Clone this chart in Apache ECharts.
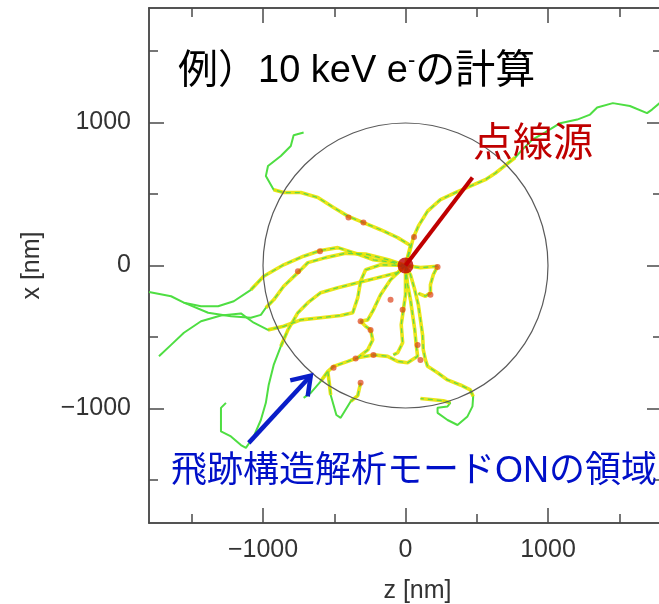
<!DOCTYPE html>
<html><head><meta charset="utf-8">
<script src="https://cdn.jsdelivr.net/npm/echarts@6/dist/echarts.min.js"></script>
<style>html,body{margin:0;padding:0;background:#fff}#c{width:659px;height:604px}</style>
</head><body><div id="c"></div>
<script>
// ---- data (nm): points are [z, x] ----
const axisMin = -1800, axisMax = 1800;
const majorTicks = [-1000, 0, 1000];
const minorTicks = [-1500, -500, 500, 1500];
const regionRadius = 1000;           // track-structure-mode region
const sourcePoint = [0, 0];
const sourceLabelAnchor = [470, 615];
const regionArrow = [-1100, -1240, -665, -770];

const trackA = [[0,0],[30,100],[55,195],[90,275],[155,380],[245,460],[350,510],[455,555],[560,600],[630,645],[700,700],[770,755],[820,810],[890,880],[980,930],[1085,995],[1205,1020],[1295,1055],[1345,1105],[1455,1135],[1575,1115],[1695,1065],[1730,1090],[1800,1150]];
const trackB = [[0,0],[35,140],[-55,195],[-175,250],[-295,300],[-405,345],[-505,405],[-615,475],[-735,510],[-855,510],[-925,530],[-980,625],[-965,695],[-875,765],[-805,835],[-785,910],[-715,930]];
const trackC = [[-15,-15],[-85,20],[-225,40],[-365,90],[-475,125],[-595,105],[-715,65],[-855,5],[-995,-75],[-1085,-170],[-1205,-250],[-1315,-285],[-1435,-285],[-1555,-260],[-1645,-215],[-1800,-185]];
const trackE = [[0,0],[-120,40],[-280,80],[-420,85],[-560,55],[-685,20],[-755,-50],[-855,-145],[-925,-240],[-980,-295],[-1015,-345],[-1085,-365],[-1225,-355],[-1385,-330],[-1555,-260]];
const trackF = [[0,0],[-175,5],[-280,-30],[-315,-110],[-335,-225],[-370,-330],[-455,-350],[-595,-365],[-735,-380],[-855,-425],[-965,-450],[-1065,-400],[-1155,-335],[-1295,-350],[-1435,-390],[-1555,-470],[-1645,-555],[-1730,-635]];
const trackD = [[0,0],[-55,-50],[-195,-85],[-335,-120],[-475,-155],[-595,-190],[-685,-260],[-755,-330],[-825,-450],[-875,-565],[-925,-695],[-960,-835],[-980,-960],[-1015,-1080],[-1065,-1195],[-1120,-1275],[-1155,-1255],[-1225,-1195],[-1295,-1160],[-1295,-995],[-1260,-960]];
const trackG = [[0,0],[-105,-100],[-175,-205],[-225,-310],[-265,-380],[-315,-390],[-280,-425],[-245,-450],[-230,-520],[-265,-590],[-335,-645]];
const trackH = [[0,0],[15,-135],[35,-240],[50,-345],[65,-450],[75,-555],[85,-635],[15,-680],[-55,-670],[-125,-635],[-225,-625],[-335,-645],[-405,-670],[-505,-705],[-545,-740],[-595,-810],[-665,-890],[-715,-925]];
const trackV = [[-545,-740],[-525,-905],[-485,-1045],[-455,-1065],[-385,-950],[-335,-910],[-315,-820]];
const trackI = [[0,0],[0,-100],[0,-205],[-15,-310],[-30,-415],[-20,-540],[-55,-610],[-85,-625]];
const trackK = [[0,0],[35,-65],[65,-170],[90,-275],[105,-380],[120,-485],[125,-590],[140,-660],[155,-705],[225,-750],[295,-800],[385,-835],[455,-870],[475,-915],[470,-985],[435,-1055],[365,-1115],[295,-1080],[225,-1030],[225,-995],[295,-985],[315,-960],[265,-945],[105,-930]];
const trackL = [[0,0],[105,-15],[225,-5],[195,-65],[175,-135],[175,-190],[140,-215],[90,-195]];
const tracks = [trackA, trackB, trackC, trackE, trackF, trackD, trackG, trackH, trackV, trackI, trackK, trackL];

const hotSpots = [[225,-10],[-400,335],[-295,300],[-245,-450],[-315,-390],[175,-205],[-20,-310],[85,-555],[-225,-625],[-350,-650],[-505,-715],[-315,-820],[105,-660],[-755,-40],[-105,-240],[-600,100],[60,200]];

const titleText = '例）10 keV e';
const titleSup = '-';
const titleTail = 'の計算';
const sourceLabel = '点線源';
const regionLabel = '飛跡構造解析モードONの領域';
const xName = 'z [nm]';
const yName = 'x [nm]';

// ---- build ----
const FONT = '"Liberation Sans", "Noto Sans CJK JP", sans-serif';
const AX = '#4a4a4a';
const fmt = v => v < 0 ? '\u2212' + (-v) : String(v);

function splitTrack(pts, R) {
  const inner = [], outer = [];
  let cur = null, curIn = null;
  for (let i = 0; i < pts.length; i++) {
    const p = pts[i];
    const isIn = Math.hypot(p[0], p[1]) <= R;
    if (cur === null) { cur = [p]; curIn = isIn; }
    else if (isIn === curIn) cur.push(p);
    else { cur.push(p); (curIn ? inner : outer).push(cur); cur = [pts[i-1], p]; curIn = isIn; }
  }
  (curIn ? inner : outer).push(cur);
  return { inner, outer };
}

function mkAxis(dim, pos, vals, len, withLabel, extra) {
  const a = {
    type: 'value', min: axisMin, max: axisMax, position: pos,
    axisLine: { show: true, onZero: false, lineStyle: { color: AX, width: 1.5 } },
    axisTick: { show: true, inside: true, length: len, customValues: vals, lineStyle: { color: AX, width: 1.5 } },
    axisLabel: { show: withLabel, customValues: vals, formatter: fmt, fontSize: 25, color: '#333', fontFamily: FONT, margin: dim === 'x' ? 15 : 18 },
    splitLine: { show: false }
  };
  return Object.assign(a, extra || {});
}

const xAxes = [
  mkAxis('x', 'bottom', majorTicks, 15, true, { name: xName, nameLocation: 'middle', nameGap: 56, nameTextStyle: { fontSize: 25, color: '#333', fontFamily: FONT, padding: [0, 0, 0, 24] } }),
  mkAxis('x', 'bottom', minorTicks, 9, false),
  mkAxis('x', 'top', majorTicks, 15, false),
  mkAxis('x', 'top', minorTicks, 9, false)
];
const yAxes = [
  mkAxis('y', 'left', majorTicks, 15, true, { name: yName, nameLocation: 'middle', nameGap: 104, nameTextStyle: { fontSize: 25, color: '#333', fontFamily: FONT } }),
  mkAxis('y', 'left', minorTicks, 9, false),
  mkAxis('y', 'right', majorTicks, 15, false),
  mkAxis('y', 'right', minorTicks, 9, false)
];

const series = [];
const innerSegs = [], outerSegs = [];
tracks.forEach(t => { const s = splitTrack(t, regionRadius); innerSegs.push(...s.inner); outerSegs.push(...s.outer); });
outerSegs.forEach(seg => series.push({ type: 'line', data: seg, symbol: 'none', silent: true, z: 2,
  lineStyle: { color: '#4ede42', width: 2 } }));
innerSegs.forEach(seg => series.push({ type: 'line', data: seg, symbol: 'none', silent: true, z: 3,
  lineStyle: { color: 'rgba(232,226,0,0.9)', width: 3.6 } }));
innerSegs.forEach(seg => series.push({ type: 'line', data: seg, symbol: 'none', silent: true, z: 4,
  lineStyle: { color: '#62d84a', width: 1.3, type: [5, 4] } }));
series.push({ type: 'scatter', data: hotSpots, symbolSize: 6, silent: true, z: 5,
  itemStyle: { color: 'rgba(220,60,20,0.85)' } });
series.push({ type: 'custom', data: [[0, 0, regionRadius]], silent: true, z: 6, clip: false,
  renderItem: (params, api) => {
    const c = api.coord([api.value(0), api.value(1)]);
    const r = api.size([api.value(2), 0])[0];
    return { type: 'circle', shape: { cx: c[0], cy: c[1], r: r }, style: { fill: 'none', stroke: '#5a5a5a', lineWidth: 1.2 } };
  } });
series.push({ type: 'line', data: [sourcePoint, sourceLabelAnchor], symbol: 'none', silent: true, z: 8,
  lineStyle: { color: '#c00000', width: 4 } });
series.push({ type: 'scatter', data: [sourcePoint], symbolSize: 16, silent: true, z: 9,
  itemStyle: { color: '#c00000' } });
series.push({ type: 'custom', data: [regionArrow], silent: true, z: 9, clip: false,
  renderItem: (params, api) => {
    const p1 = api.coord([api.value(0), api.value(1)]);
    const p2 = api.coord([api.value(2), api.value(3)]);
    const ang = Math.atan2(p2[1] - p1[1], p2[0] - p1[0]);
    const L = 21, spread = 0.6;
    const a1 = [p2[0] - L * Math.cos(ang - spread), p2[1] - L * Math.sin(ang - spread)];
    const a2 = [p2[0] - L * Math.cos(ang + spread), p2[1] - L * Math.sin(ang + spread)];
    const st = { stroke: '#0a1ec8', lineWidth: 4.5, fill: 'none', lineCap: 'butt', lineJoin: 'miter' };
    return { type: 'group', children: [
      { type: 'line', shape: { x1: p1[0], y1: p1[1], x2: p2[0], y2: p2[1] }, style: st },
      { type: 'polyline', shape: { points: [a1, p2, a2] }, style: st }
    ] };
  } });

const chart = echarts.init(document.getElementById('c'), null, { renderer: 'canvas' });
chart.setOption({
  animation: false,
  backgroundColor: '#fff',
  grid: { left: 149, top: 8, width: 513, height: 515, containLabel: false, outerBoundsMode: 'none' },
  xAxis: xAxes,
  yAxis: yAxes,
  series: series.map(s => Object.assign({ xAxisIndex: 0, yAxisIndex: 0 }, s)),
  graphic: [
    { type: 'text', x: 178, y: 72, z: 20, style: {
      text: '{c|例）}{a|10 keV e}{s|' + titleSup + '}{c|' + titleTail + '}',
      verticalAlign: 'middle',
      rich: {
        c: { fontSize: 40, fontFamily: FONT, fill: '#000', color: '#000', lineHeight: 44 },
        a: { fontSize: 38, fontFamily: FONT, fill: '#000', color: '#000', lineHeight: 44 },
        s: { fontSize: 22, fontFamily: FONT, fill: '#000', color: '#000', verticalAlign: 'top', lineHeight: 22 }
      } } },
    { type: 'text', x: 473, y: 145, z: 20, style: { text: sourceLabel, font: '40px ' + FONT, fill: '#c00000', verticalAlign: 'middle' } },
    { type: 'text', x: 171, y: 472, z: 20, style: { text: regionLabel, font: '36px ' + FONT, fill: '#0010c8', verticalAlign: 'middle' } }
  ]
});
</script></body></html>
